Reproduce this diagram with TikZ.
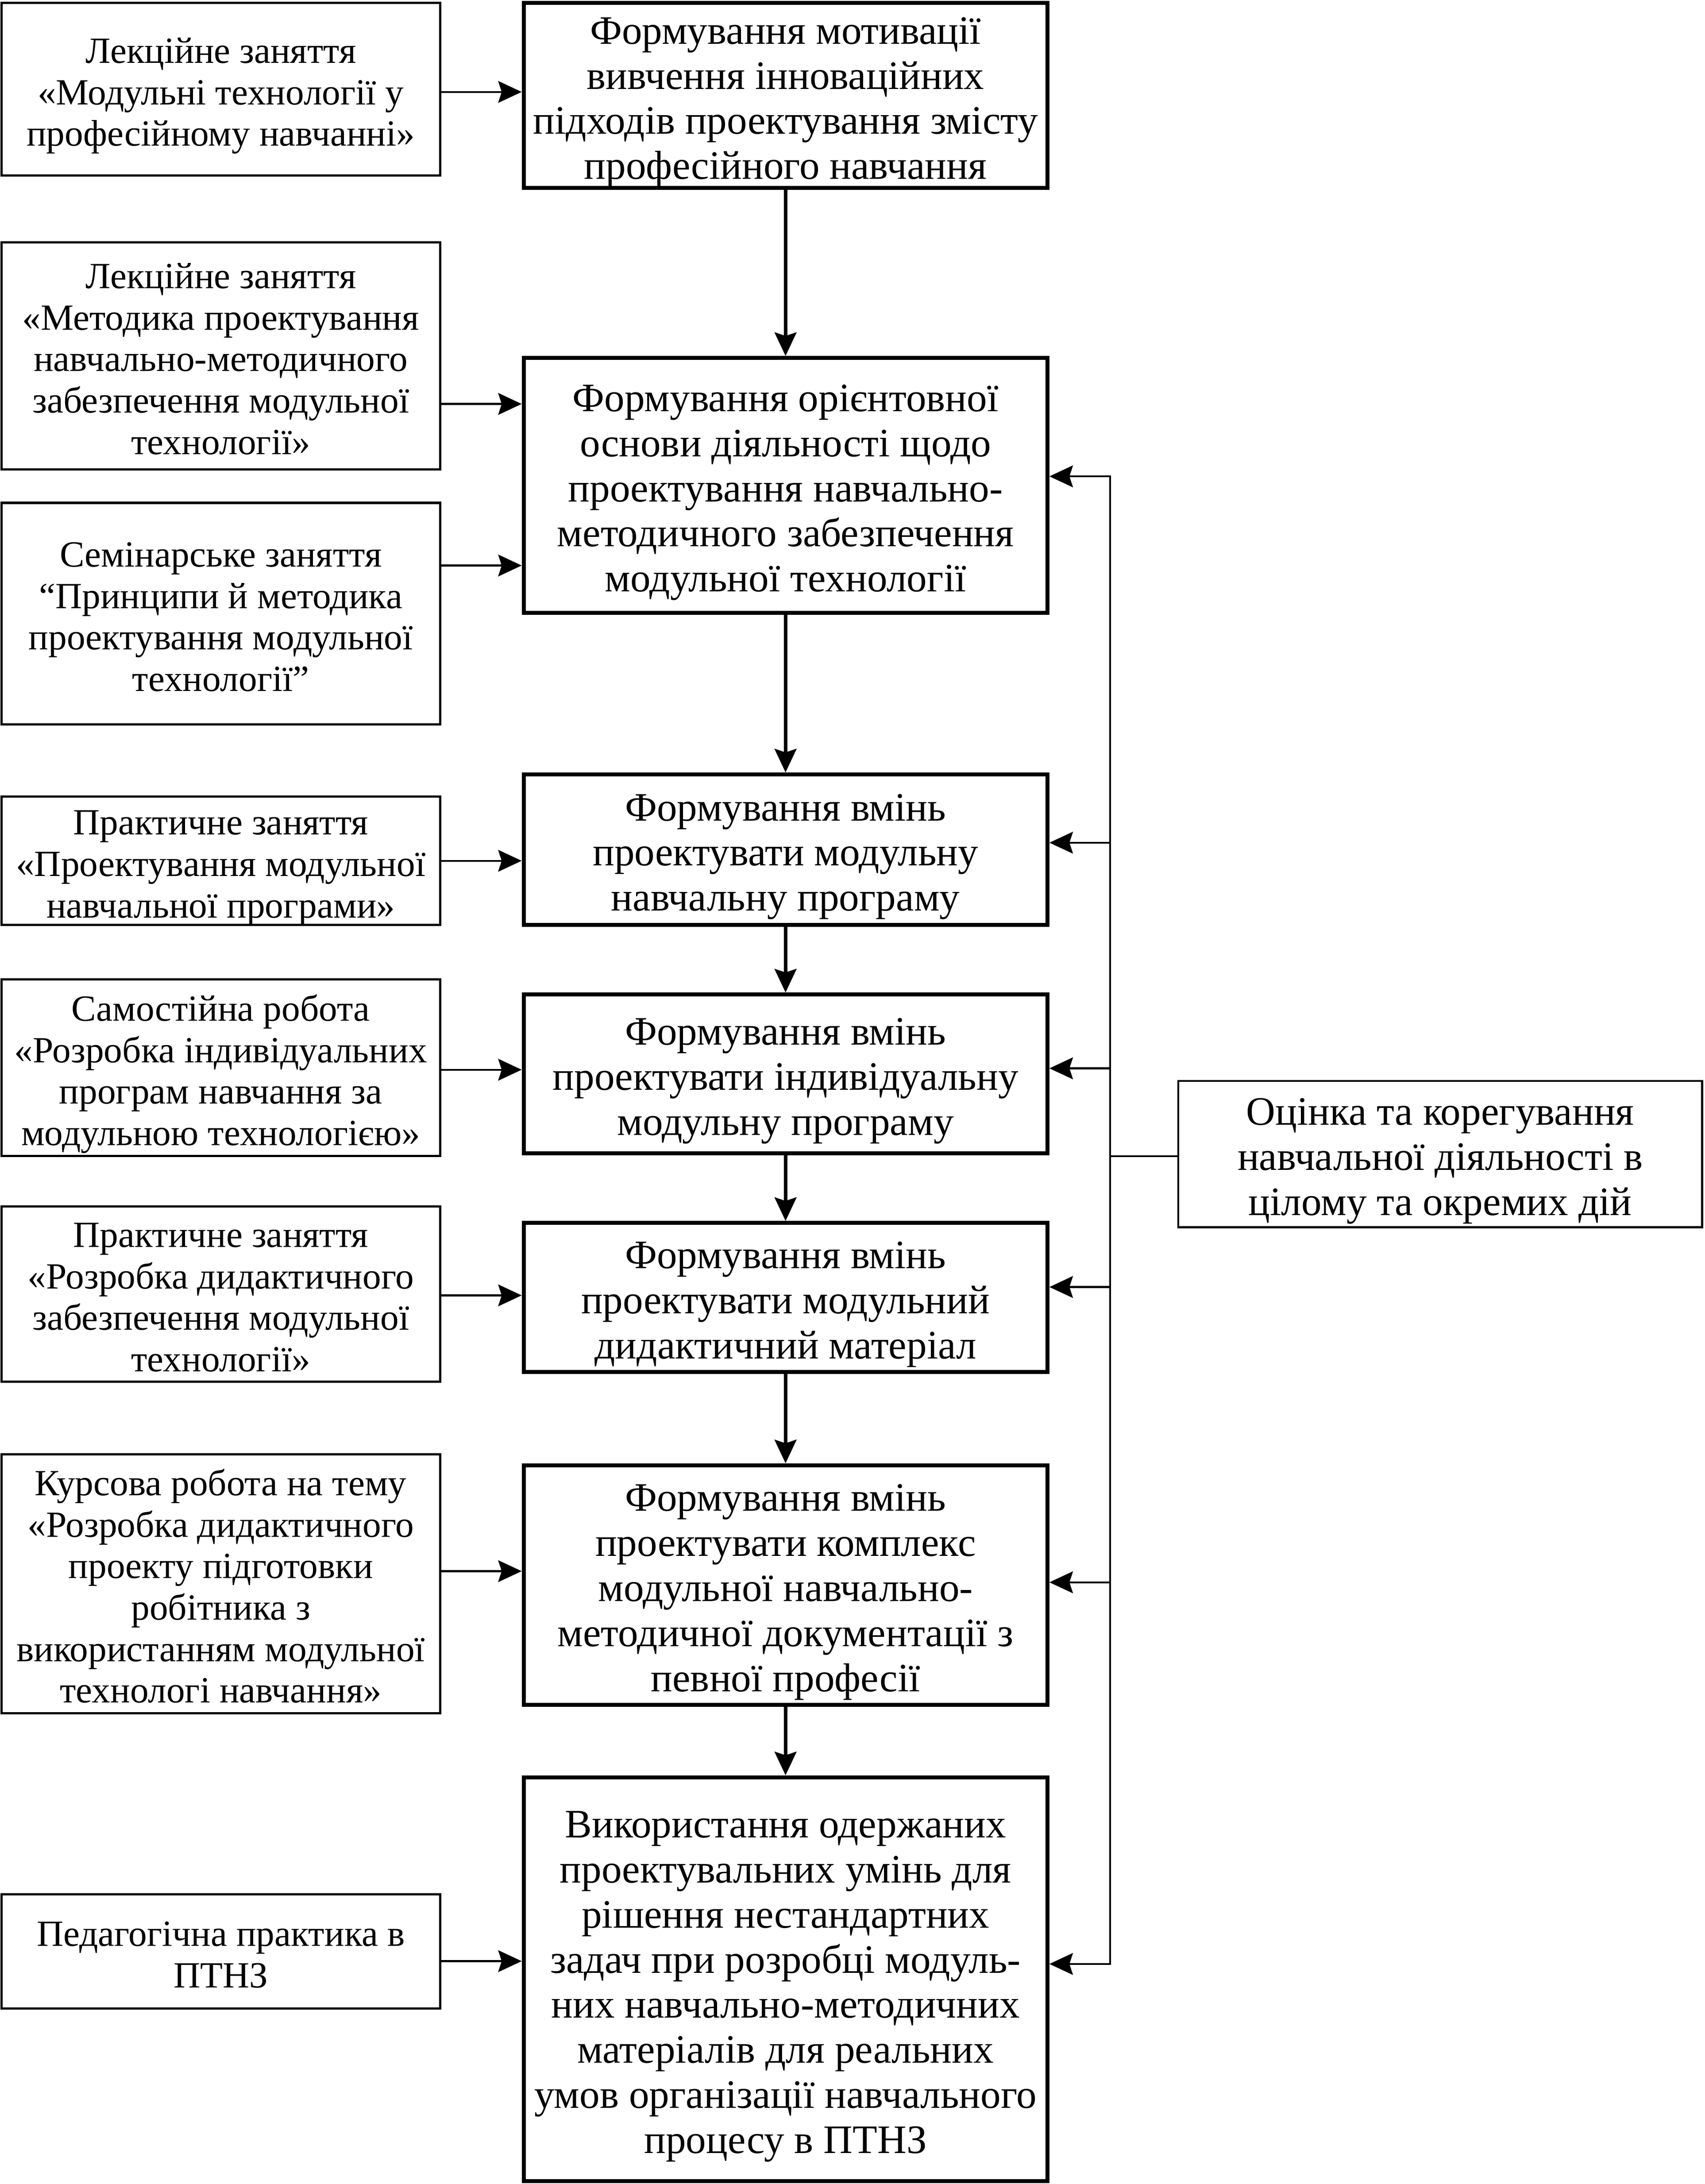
\documentclass[tikz,border=0pt]{standalone}
\usepackage{fontspec}
\setmainfont{Liberation Serif}
\usetikzlibrary{arrows.meta}
\newcommand\cfont{\fontsize{23.2}{25.9}\selectfont}
\newcommand\lfont{\fontsize{21.2}{23.8}\selectfont}
\newcommand\ts{\rule{0pt}{\dimexpr0.72em+9.6pt\relax}}
\newcommand\botstrut{\rule[-0.3\baselineskip]{0pt}{0pt}}
\begin{document}
\begin{tikzpicture}[x=0.8pt,y=-0.8pt,
  lframe/.style={draw, inner sep=0pt, line width=1.3pt, minimum width=252pt},
  cframe/.style={draw, inner sep=0pt, line width=2.3pt, minimum width=300.8pt},
  rframe/.style={draw, inner sep=0pt, line width=1.2pt, minimum width=300.8pt},
  txt/.style={inner sep=0pt, align=center, execute at end node=\botstrut},
  ltxt/.style={txt, font=\lfont},
  ctxt/.style={txt, font=\cfont},
  arr/.style={-{Stealth[length=13.5pt,width=12.5pt,inset=2pt]}, line width=1.1pt},
  darr/.style={-{Stealth[length=13.5pt,width=12.5pt,inset=2pt]}, line width=2pt},
  fbline/.style={line width=1.1pt}]
\useasboundingbox (0,0) rectangle (1224,1568);

% left boxes
\node[lframe, minimum height=99.2pt]  (L1) at (158.5,64)    {};
\node[lframe, minimum height=130.4pt] (L2) at (158.5,255.5) {};
\node[lframe, minimum height=127.2pt] (L3) at (158.5,440.5) {};
\node[lframe, minimum height=73.6pt]  (L4) at (158.5,618)   {};
\node[lframe, minimum height=101.6pt] (L5) at (158.5,766.5) {};
\node[lframe, minimum height=100.8pt] (L6) at (158.5,929)   {};
\node[lframe, minimum height=148.8pt] (L7) at (158.5,1137)  {};
\node[lframe, minimum height=65.6pt]  (L8) at (158.5,1401)  {};
\node[ltxt] (L1t) at (L1.center) {\ts Лекційне заняття\\«Модульні технології у\\професійному навчанні»};
\node[ltxt] (L2t) at (L2.center) {\ts Лекційне заняття\\«Методика проектування\\навчально-методичного\\забезпечення модульної\\технології»};
\node[ltxt] (L3t) at (L3.center) {\ts Семінарське заняття\\“Принципи й методика\\проектування модульної\\технології”};
\node[ltxt] (L4t) at (L4.center) {\ts Практичне заняття\\«Проектування модульної\\навчальної програми»};
\node[ltxt] (L5t) at (L5.center) {\ts Самостійна робота\\«Розробка індивідуальних\\програм навчання за\\модульною технологією»};
\node[ltxt] (L6t) at (L6.center) {\ts Практичне заняття\\«Розробка дидактичного\\забезпечення модульної\\технології»};
\node[ltxt] (L7t) at (L7.center) {\ts Курсова робота на тему\\«Розробка дидактичного\\проекту підготовки\\робітника з\\використанням модульної\\технологі навчання»};
\node[ltxt] (L8t) at (L8.center) {\ts Педагогічна практика в\\ПТНЗ};

% centre boxes
\node[cframe, minimum height=106.4pt] (C1) at (564,68.5)  {};
\node[cframe, minimum height=146.4pt] (C2) at (564,348.5) {};
\node[cframe, minimum height=86.4pt]  (C3) at (564,610)   {};
\node[cframe, minimum height=91.2pt]  (C4) at (564,771)   {};
\node[cframe, minimum height=85.6pt]  (C5) at (564,931.5) {};
\node[cframe, minimum height=137.6pt] (C6) at (564,1138)  {};
\node[cframe, minimum height=232pt]   (C7) at (564,1421)  {};
\node[ctxt] (C1t) at (C1.center) {\ts Формування мотивації\\вивчення інноваційних\\підходів проектування змісту\\професійного навчання};
\node[ctxt] (C2t) at (C2.center) {\ts Формування орієнтовної\\основи діяльності щодо\\проектування навчально-\\методичного забезпечення\\модульної технології};
\node[ctxt] (C3t) at (C3.center) {\ts Формування вмінь\\проектувати модульну\\навчальну програму};
\node[ctxt] (C4t) at (C4.center) {\ts Формування вмінь\\проектувати індивідуальну\\модульну програму};
\node[ctxt] (C5t) at (C5.center) {\ts Формування вмінь\\проектувати модульний\\дидактичний матеріал};
\node[ctxt] (C6t) at (C6.center) {\ts Формування вмінь\\проектувати комплекс\\модульної навчально-\\методичної документації з\\певної професії};
\node[ctxt] (C7t) at (C7.center) {\ts Використання одержаних\\проектувальних умінь для\\рішення нестандартних\\задач при розробці модуль-\\них навчально-методичних\\матеріалів для реальних\\умов організації навчального\\процесу в ПТНЗ};

% right box
\node[rframe, minimum height=84pt] (R) at (1034,828.5) {};
\node[ctxt] (Rt) at (R.center) {\ts Оцінка та корегування\\навчальної діяльності в\\цілому та окремих дій};

% levels of left arrows
\coordinate (a1) at (0,66);
\coordinate (a2) at (0,290);
\coordinate (a3) at (0,406);
\coordinate (a4) at (0,618);
\coordinate (a5) at (0,768);
\coordinate (a6) at (0,930);
\coordinate (a7) at (0,1128);
\coordinate (a8) at (0,1408);

\draw[arr] (L1.east |- a1) -- (C1.west |- a1);
\draw[arr] (L2.east |- a2) -- (C2.west |- a2);
\draw[arr] (L3.east |- a3) -- (C2.west |- a3);
\draw[arr] (L4.east |- a4) -- (C3.west |- a4);
\draw[arr] (L5.east |- a5) -- (C4.west |- a5);
\draw[arr] (L6.east |- a6) -- (C5.west |- a6);
\draw[arr] (L7.east |- a7) -- (C6.west |- a7);
\draw[arr] (L8.east |- a8) -- (C7.west |- a8);

% down arrows
\draw[darr] (C1.south) -- (C2.north);
\draw[darr] (C2.south) -- (C3.north);
\draw[darr] (C3.south) -- (C4.north);
\draw[darr] (C4.south) -- (C5.north);
\draw[darr] (C5.south) -- (C6.north);
\draw[darr] (C6.south) -- (C7.north);

% feedback
\coordinate (fb) at (797,830);
\coordinate (f2) at (797,342);
\coordinate (f3) at (797,605);
\coordinate (f4) at (797,767);
\coordinate (f5) at (797,924);
\coordinate (f6) at (797,1136);
\coordinate (f7) at (797,1410);
\draw[fbline] (R.west |- fb) -- (fb);
\draw[arr] (fb) |- (C2.east |- f2);
\draw[arr] (fb) |- (C7.east |- f7);
\draw[arr] (f3) -- (C3.east |- f3);
\draw[arr] (f4) -- (C4.east |- f4);
\draw[arr] (f5) -- (C5.east |- f5);
\draw[arr] (f6) -- (C6.east |- f6);
\end{tikzpicture}
\end{document}
